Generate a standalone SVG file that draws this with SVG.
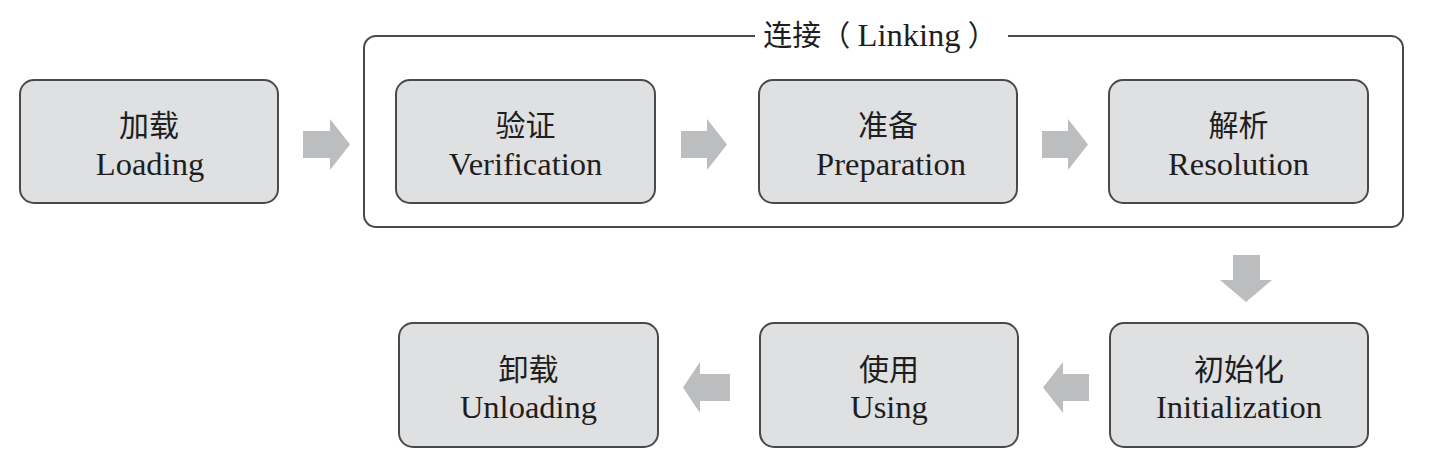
<svg xmlns="http://www.w3.org/2000/svg" width="1434" height="472" viewBox="0 0 1434 472">
<style>
.box{fill:#dfe0e2;stroke:#4a4a4a;stroke-width:2}
.frame{fill:none;stroke:#4a4a4a;stroke-width:2}
.arrow{fill:#bcbdbf}
text{font-family:"Liberation Serif","Noto Sans CJK SC",serif;fill:#1e1e1e;text-anchor:middle}
.zh{font-size:30px}
.en{font-size:32.5px}
.lbl{font-size:29px}
.lbl tspan{font-size:32.5px}
</style>
<rect width="1434" height="472" fill="#ffffff"/>
<g id="linking">
<path class="frame" d="M755,36 H376 A12,12 0 0 0 364,48 V215 A12,12 0 0 0 376,227 H1391 A12,12 0 0 0 1403,215 V48 A12,12 0 0 0 1391,36 H1008"/>
<text class="lbl" x="880" y="46">连接（ <tspan>Linking</tspan> ）</text>
</g>
<g id="loading">
<rect class="box" x="20" y="80" width="258" height="123" rx="14"/>
<text class="zh" x="149" y="136">加载</text>
<text class="en" x="150" y="175">Loading</text>
</g>
<g id="verification">
<rect class="box" x="396" y="80" width="259" height="123" rx="14"/>
<text class="zh" x="525.5" y="136">验证</text>
<text class="en" x="525.5" y="175">Verification</text>
</g>
<g id="preparation">
<rect class="box" x="759" y="80" width="258" height="123" rx="14"/>
<text class="zh" x="888" y="136">准备</text>
<text class="en" x="891" y="175">Preparation</text>
</g>
<g id="resolution">
<rect class="box" x="1109" y="80" width="259" height="123" rx="14"/>
<text class="zh" x="1238.5" y="136">解析</text>
<text class="en" x="1238.5" y="175">Resolution</text>
</g>
<g id="initialization">
<rect class="box" x="1110" y="323" width="258" height="124" rx="14"/>
<text class="zh" x="1239" y="380">初始化</text>
<text class="en" x="1239" y="418">Initialization</text>
</g>
<g id="using">
<rect class="box" x="760" y="323" width="258" height="124" rx="14"/>
<text class="zh" x="889" y="380">使用</text>
<text class="en" x="889" y="418">Using</text>
</g>
<g id="unloading">
<rect class="box" x="399" y="323" width="259" height="124" rx="14"/>
<text class="zh" x="528.5" y="380">卸载</text>
<text class="en" x="528.5" y="418">Unloading</text>
</g>
<g id="connectors">
<polygon class="arrow" points="303,131 330,131 330,119 350,144.5 330,170 330,158 303,158"/>
<polygon class="arrow" points="681,131 707,131 707,119 727,144.5 707,170 707,158 681,158"/>
<polygon class="arrow" points="1042,131 1068,131 1068,119 1088,144.5 1068,170 1068,158 1042,158"/>
<polygon class="arrow" points="1233,255 1260,255 1260,280 1272,280 1246,302 1220,280 1233,280"/>
<polygon class="arrow" points="1089,374 1063,374 1063,362 1043,387.5 1063,413 1063,401 1089,401"/>
<polygon class="arrow" points="730,374 700,374 700,362 683,387.5 700,413 700,401 730,401"/>
</g>
</svg>
